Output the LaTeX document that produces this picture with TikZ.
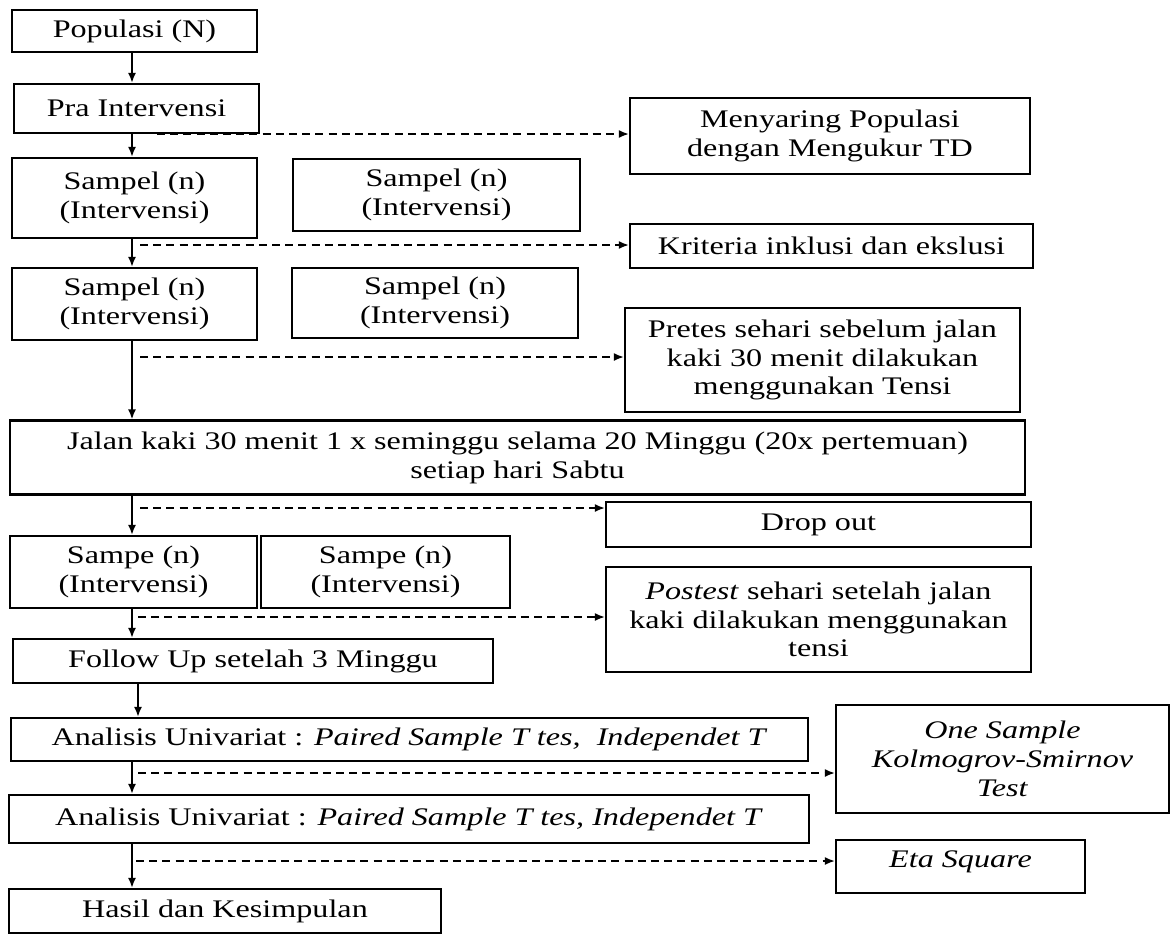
\documentclass[tikz,border=0pt]{standalone}
\usepackage{fontspec}
\setmainfont[FakeStretch=1.27]{Liberation Serif}
\usetikzlibrary{arrows.meta}
\tikzset{>={Latex[length=2.5mm,width=2mm]}}
\tikzset{stepbox/.style = {draw, line width=1.6pt, align=center, inner sep=2pt}}
\tikzset{flow/.style = {->, line width=1.2pt}}
\tikzset{side/.style = {->, line width=1.1pt, dash pattern=on 2mm off 1.3mm}}

\begin{document}
\begin{tikzpicture}[x=0.025cm, y=-0.025cm, font=\fontsize{18}{20.5}\selectfont]
    \useasboundingbox (0,0) rectangle (1172,934);

    \node[stepbox, minimum width=6.125cm, minimum height=1.05cm] (pop) at (134.5,31) {Populasi (N)};
    \node[stepbox, minimum width=6.125cm, minimum height=1.225cm] (pra) at (136.5,108.5) {Pra Intervensi};
    \node[stepbox, minimum width=10cm, minimum height=1.9cm] (saring) at (830,136) {Menyaring Populasi\\dengan Mengukur TD};
    \node[stepbox, minimum width=6.125cm, minimum height=2cm] (sampA) at (134.5,198) {Sampel (n)\\(Intervensi)};
    \node[stepbox, minimum width=7.175cm, minimum height=1.8cm] (sampB) at (436.5,195) {Sampel (n)\\(Intervensi)};
    \node[stepbox, minimum width=10.075cm, minimum height=1.1cm] (krit) at (831.5,246) {Kriteria inklusi dan ekslusi};
    \node[stepbox, minimum width=6.125cm, minimum height=1.8cm] (sampC) at (134.5,304) {Sampel (n)\\(Intervensi)};
    \node[stepbox, minimum width=7.15cm, minimum height=1.75cm] (sampD) at (435,303) {Sampel (n)\\(Intervensi)};
    \node[stepbox, minimum width=9.875cm, minimum height=2.6cm] (pretes) at (822.5,360) {Pretes sehari sebelum jalan\\kaki 30 menit dilakukan\\menggunakan Tensi};
    \node[stepbox, minimum width=25.375cm, minimum height=1.85cm] (jalan) at (517.5,457.5) {Jalan kaki 30 menit 1 x seminggu selama 20 Minggu (20x pertemuan)\\setiap hari Sabtu};
    \node[stepbox, minimum width=10.625cm, minimum height=1.125cm] (drop) at (818.5,524.5) {Drop out};
    \node[stepbox, minimum width=6.175cm, minimum height=1.8cm] (sampeA) at (133.5,572) {Sampe (n)\\(Intervensi)};
    \node[stepbox, minimum width=6.225cm, minimum height=1.8cm] (sampeB) at (385.5,572) {Sampe (n)\\(Intervensi)};
    \node[stepbox, minimum width=10.625cm, minimum height=2.625cm] (postest) at (818.5,619.5) {\textit{Postest} sehari setelah jalan\\kaki dilakukan menggunakan\\tensi};
    \node[stepbox, minimum width=12cm, minimum height=1.1cm] (follow) at (253,661) {Follow Up setelah 3 Minggu};
    \node[stepbox, minimum width=19.925cm, minimum height=1.075cm] (anal1) at (409.5,739.5) {Analisis Univariat : \textit{Paired Sample T tes,~ Independet T}};
    \node[stepbox, minimum width=8.325cm, minimum height=2.7cm] (onesamp) at (1002.5,759) {\textit{One Sample}\\\textit{Kolmogrov-Smirnov}\\\textit{Test}};
    \node[stepbox, minimum width=20cm, minimum height=1.2cm] (anal2) at (409,819) {Analisis Univariat : \textit{Paired Sample T tes, Independet T}};
    \node[stepbox, minimum width=6.225cm, minimum height=1.325cm, text depth=10pt] (eta) at (960.5,866.5) {\textit{Eta Square}};
    \node[stepbox, minimum width=10.8cm, minimum height=1.1cm] (hasil) at (225,911) {Hasil dan Kesimpulan};

    % main line
    \coordinate (spine) at (132,0);
    \coordinate (spine2) at (138,0);
    \draw[flow] (pop.south -| spine) -- (pra.north -| spine);
    \draw[flow] (pra.south -| spine) -- (sampA.north -| spine);
    \draw[flow] (sampA.south -| spine) -- (sampC.north -| spine);
    \draw[flow] (sampC.south -| spine) -- (jalan.north -| spine);
    \draw[flow] (jalan.south -| spine) -- (sampeA.north -| spine);
    \draw[flow] (sampeA.south -| spine) -- (follow.north -| spine);
    \draw[flow] (follow.south -| spine2) -- (anal1.north -| spine2);
    \draw[flow] (anal1.south -| spine) -- (anal2.north -| spine);
    \draw[flow] (anal2.south -| spine) -- (hasil.north -| spine);

    % side branches
    \coordinate (d1) at (157,134);
    \coordinate (d2) at (140,245);
    \coordinate (d3) at (140,357);
    \coordinate (d4) at (140,508);
    \coordinate (d5) at (138,617);
    \coordinate (d6) at (138,773);
    \coordinate (d7) at (136,861);
    \draw[side] (d1) -- (d1 -| saring.west);
    \draw[side] (d2) -- (d2 -| krit.west);
    \draw[side] (d3) -- (d3 -| pretes.west);
    \draw[side] (d4) -- (d4 -| drop.west);
    \draw[side] (d5) -- (d5 -| postest.west);
    \draw[side] (d6) -- (d6 -| onesamp.west);
    \draw[side] (d7) -- (d7 -| eta.west);
\end{tikzpicture}
\end{document}
